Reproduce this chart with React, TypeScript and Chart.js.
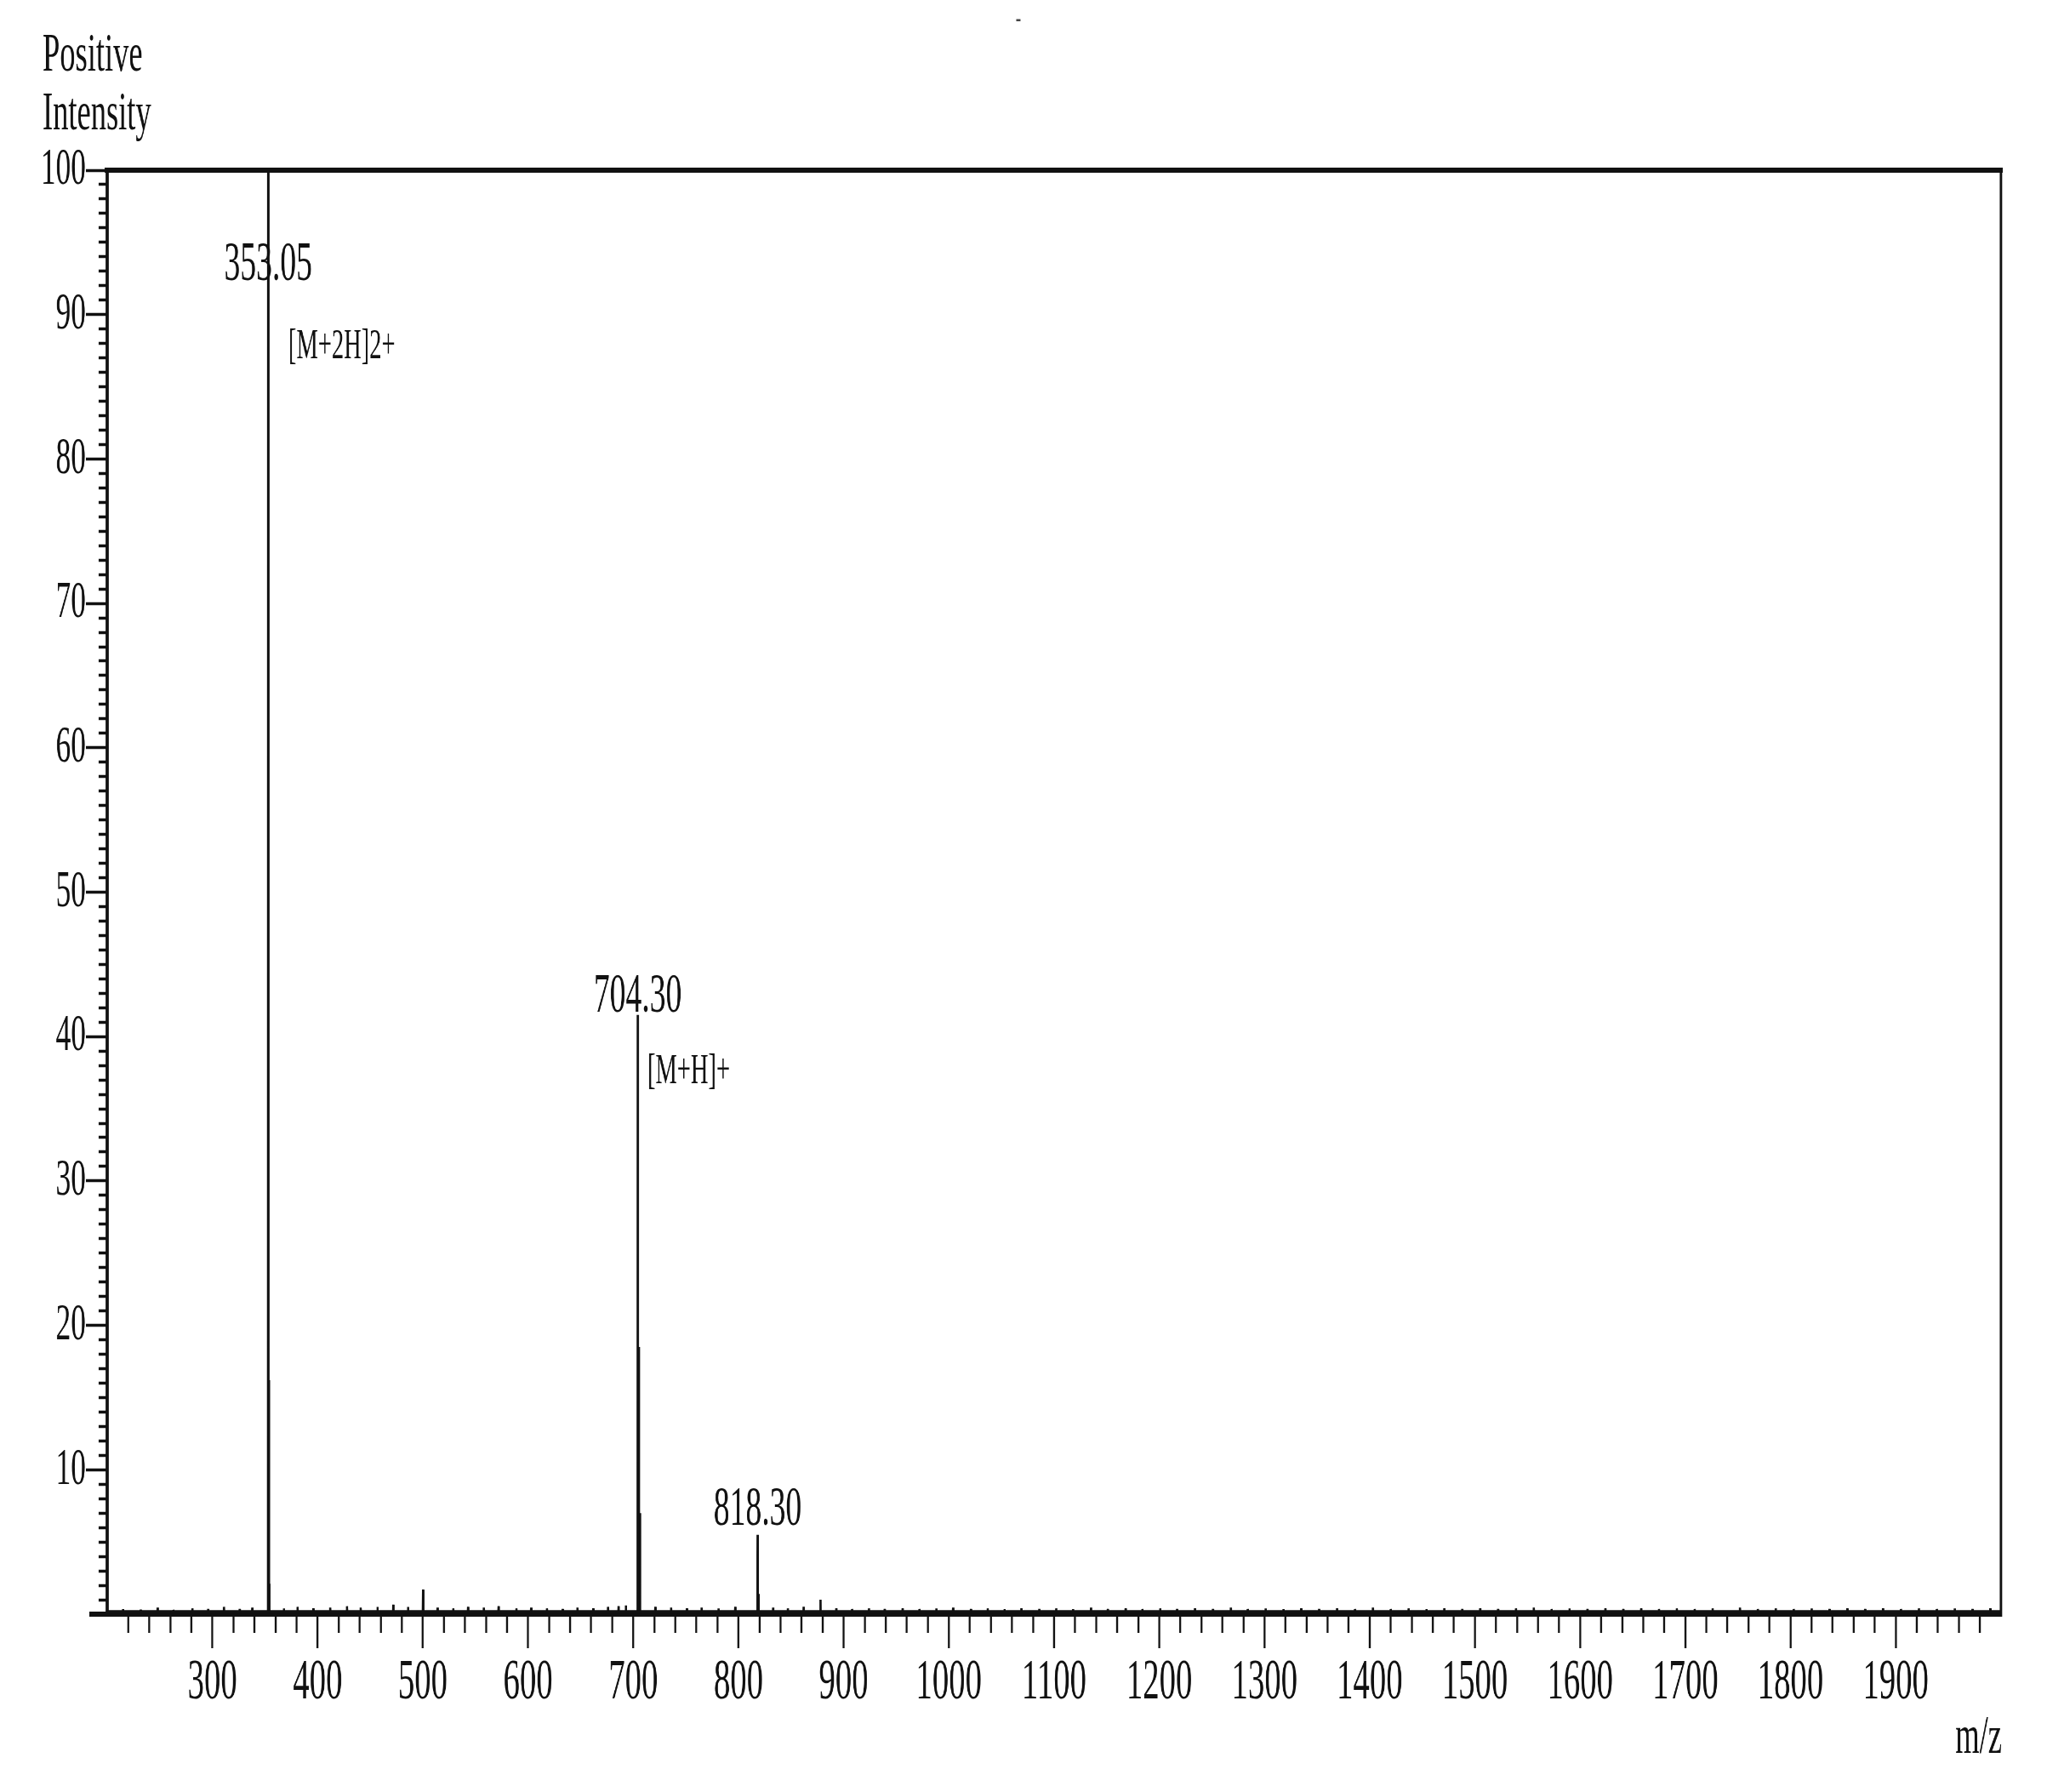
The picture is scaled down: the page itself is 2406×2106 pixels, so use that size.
import React, { useEffect, useRef } from "react";
import { Chart, registerables } from "chart.js";

Chart.register(...registerables);

// ---------- data ----------
const mainPeakMz = [353.05, 353.55, 354.05, 428, 472, 500.2, 686, 704.3, 705.3, 706.3, 818.3, 819.3, 878, 1752];
const mainPeakIntensity = [100, 16.2, 2.1, 0.55, 0.65, 1.7, 0.55, 41.5, 18.5, 7.0, 5.5, 1.4, 1.0, 0.45];

const noiseMz = [215, 232, 248, 263, 281, 296, 311, 326, 338, 368, 381, 396, 412, 441, 457, 486, 514, 529, 543, 558, 572, 589, 603, 618, 633, 647, 662, 676, 693, 721, 736, 751, 765, 781, 797, 833, 847, 862, 893, 908, 924, 939, 956, 972, 988, 1004, 1021, 1037, 1053, 1069, 1086, 1102, 1118, 1135, 1151, 1168, 1184, 1201, 1217, 1234, 1251, 1268, 1284, 1301, 1318, 1335, 1352, 1369, 1386, 1403, 1420, 1437, 1454, 1471, 1488, 1505, 1522, 1539, 1556, 1573, 1590, 1607, 1624, 1641, 1658, 1675, 1692, 1709, 1726, 1769, 1786, 1803, 1820, 1837, 1854, 1871, 1888, 1905, 1922, 1939, 1956, 1973, 1990];
const noiseIntensity = [0.35, 0.3, 0.45, 0.3, 0.4, 0.35, 0.5, 0.35, 0.45, 0.4, 0.5, 0.4, 0.45, 0.45, 0.5, 0.5, 0.45, 0.4, 0.5, 0.45, 0.55, 0.4, 0.45, 0.4, 0.35, 0.45, 0.4, 0.5, 0.6, 0.5, 0.45, 0.4, 0.45, 0.4, 0.5, 0.45, 0.4, 0.5, 0.4, 0.35, 0.4, 0.35, 0.4, 0.35, 0.4, 0.45, 0.35, 0.4, 0.35, 0.4, 0.35, 0.4, 0.35, 0.45, 0.35, 0.4, 0.35, 0.4, 0.35, 0.4, 0.35, 0.45, 0.35, 0.4, 0.35, 0.4, 0.35, 0.4, 0.35, 0.45, 0.35, 0.4, 0.35, 0.4, 0.35, 0.4, 0.35, 0.4, 0.45, 0.35, 0.4, 0.35, 0.4, 0.35, 0.4, 0.35, 0.4, 0.35, 0.4, 0.35, 0.4, 0.35, 0.4, 0.35, 0.4, 0.35, 0.4, 0.35, 0.4, 0.35, 0.4, 0.35, 0.4];
const baselineLevel = 0.15;

const peakLabels = ["353.05", "704.30", "818.30"];
const peakLabelMz = [353.05, 704.3, 818.3];
const peakLabelY = [92.4, 41.7, 6.2];

const ionLabels = ["[M+2H]2+", "[M+H]+"];
const ionLabelMz = [372.2, 713.5];
const ionLabelY = [87.0, 36.8];

const xMajorTicks = [300, 400, 500, 600, 700, 800, 900, 1000, 1100, 1200, 1300, 1400, 1500, 1600, 1700, 1800, 1900];
const yMajorTicks = [10, 20, 30, 40, 50, 60, 70, 80, 90, 100];
const xRange = [200, 2000];
const yRange = [0, 100];

// ---------- layout ----------
const S = 0.57; // horizontal squeeze of the original picture
const CSS_W = 2390;
const CSS_H = 2090;
const BW = Math.round(CSS_W / S);
const FONT = '"Liberation Serif", "Times New Roman", serif';
const INK = "#111";
const TEXT = "#111";
const Y_TICK_LEN = 44;
const Y_MINOR_LEN = 15;
const AXIS_W = 6;

function buildSpectrum() {
  const sticks: [number, number][] = [];
  mainPeakMz.forEach((m, i) => sticks.push([m, mainPeakIntensity[i]]));
  noiseMz.forEach((m, i) => sticks.push([m, noiseIntensity[i]]));
  sticks.sort((a, b) => a[0] - b[0]);
  const pts: { x: number; y: number }[] = [{ x: xRange[0], y: baselineLevel }];
  const hw = 0.2;
  for (const [m, h] of sticks) {
    pts.push({ x: m - hw, y: baselineLevel });
    pts.push({ x: m, y: h });
    pts.push({ x: m + hw, y: baselineLevel });
  }
  pts.push({ x: xRange[1], y: baselineLevel });
  return pts;
}

const xAllTicks: number[] = [];
for (let v = xRange[0] + 20; v < xRange[1]; v += 20) xAllTicks.push(v);
const yAllTicks: number[] = [];
for (let v = yRange[0] + 1; v <= yRange[1]; v += 1) yAllTicks.push(v);

const annotationPlugin = {
  id: "msAnnotations",
  afterDraw(chart: any) {
    const { ctx, chartArea: a, scales } = chart;
    const x = scales.x;
    const y = scales.y;
    ctx.save();
    ctx.strokeStyle = INK;
    // top & right frame
    ctx.lineWidth = 6;
    ctx.beginPath();
    ctx.moveTo(a.left - 5, a.top);
    ctx.lineTo(a.right + 4, a.top);
    ctx.stroke();
    ctx.lineWidth = 5;
    ctx.beginPath();
    ctx.moveTo(a.right, a.top);
    ctx.lineTo(a.right, a.bottom + 3);
    ctx.stroke();
    // baseline extension left of the y axis
    ctx.lineWidth = 6;
    ctx.beginPath();
    ctx.moveTo(a.left - 37, a.bottom);
    ctx.lineTo(a.left, a.bottom);
    ctx.stroke();

    ctx.fillStyle = TEXT;
    ctx.textBaseline = "alphabetic";
    // peak m/z labels
    ctx.font = `66px ${FONT}`;
    ctx.textAlign = "center";
    peakLabels.forEach((t, i) => {
      ctx.fillText(t, x.getPixelForValue(peakLabelMz[i]), y.getPixelForValue(peakLabelY[i]));
    });
    // ion labels
    ctx.font = `50px ${FONT}`;
    ctx.textAlign = "left";
    ionLabels.forEach((t, i) => {
      ctx.fillText(t, x.getPixelForValue(ionLabelMz[i]), y.getPixelForValue(ionLabelY[i]));
    });
    // axis titles
    ctx.font = `64px ${FONT}`;
    ctx.textAlign = "left";
    ctx.fillText("Positive", 42 / S, 75);
    ctx.fillText("Intensity", 42 / S, 144);
    ctx.textAlign = "right";
    ctx.fillText("m/z", a.right + 2, 2052);
    // small mark at top
    ctx.textAlign = "center";
    ctx.font = `34px ${FONT}`;
    ctx.fillStyle = "#444";
    ctx.fillText("-", 1189 / S, 24);
    ctx.restore();
  },
};

export default function App() {
  const ref = useRef<HTMLCanvasElement>(null);
  useEffect(() => {
    if (!ref.current) return;
    const chart = new Chart(ref.current, {
      type: "line",
      data: {
        datasets: [
          {
            data: buildSpectrum(),
            borderColor: INK,
            borderWidth: 4.5,
            pointRadius: 0,
            tension: 0,
            borderJoinStyle: "bevel",
            fill: false,
          },
        ],
      },
      options: {
        animation: false,
        responsive: false,
        maintainAspectRatio: false,
        devicePixelRatio: 1,
        events: [],
        layout: { padding: { left: 0, right: BW - Math.round(2344 / S), top: 192, bottom: 0 } },
        plugins: { legend: { display: false }, tooltip: { enabled: false }, title: { display: false } },
        scales: {
          x: {
            type: "linear",
            position: "bottom",
            min: xRange[0],
            max: xRange[1],
            afterBuildTicks: (scale: any) => {
              scale.ticks = xAllTicks.map((v) => ({ value: v }));
            },
            afterFit: (scale: any) => {
              scale.height = CSS_H - 1889;
            },
            ticks: {
              autoSkip: false,
              maxRotation: 0,
              minRotation: 0,
              padding: 0,
              color: TEXT,
              font: { family: FONT, size: 68 },
              callback: (v: any) => (xMajorTicks.includes(Number(v)) ? String(v) : ""),
            },
            grid: {
              drawOnChartArea: false,
              drawTicks: true,
              tickLength: 40,
              tickWidth: 4,
              tickColor: INK,
              tickBorderDash: (c: any) => (c.tick && xMajorTicks.includes(c.tick.value) ? [] : [19, 400]),
            },
            border: { display: true, color: INK, width: AXIS_W },
          },
          y: {
            type: "linear",
            position: "left",
            min: yRange[0],
            max: yRange[1],
            afterBuildTicks: (scale: any) => {
              scale.ticks = yAllTicks.map((v) => ({ value: v }));
            },
            afterFit: (scale: any) => {
              scale.width = Math.round(118 / S);
            },
            ticks: {
              autoSkip: false,
              padding: 0,
              color: TEXT,
              font: { family: FONT, size: 62 },
              callback: (v: any) => (yMajorTicks.includes(Number(v)) ? String(v) : ""),
            },
            grid: {
              drawOnChartArea: false,
              drawTicks: true,
              tickLength: Y_TICK_LEN,
              tickWidth: 3.5,
              tickColor: INK,
              tickBorderDash: (c: any) =>
                c.tick && yMajorTicks.includes(c.tick.value)
                  ? []
                  : [0, Y_TICK_LEN - AXIS_W / 2 - Y_MINOR_LEN, Y_MINOR_LEN + 4, 400],
            },
            border: { display: true, color: INK, width: AXIS_W },
          },
        },
      },
      plugins: [annotationPlugin],
    } as any);
    return () => chart.destroy();
  }, []);
  return (
    <canvas
      ref={ref}
      width={BW}
      height={CSS_H}
      style={{ display: "block", width: `${CSS_W}px`, height: `${CSS_H}px` }}
    />
  );
}
